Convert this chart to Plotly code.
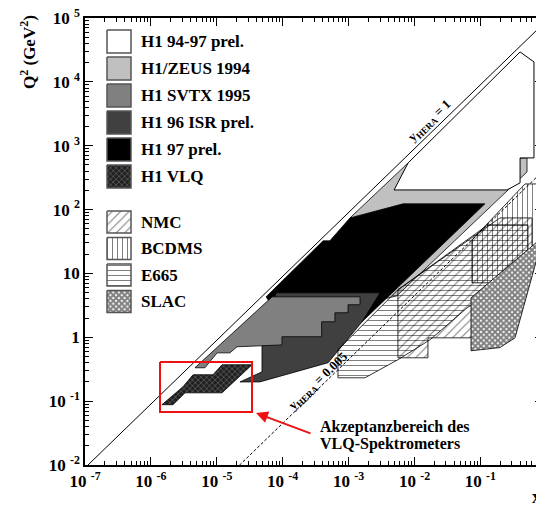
import plotly.graph_objects as go

# ---- kinematic regions, x and Q^2 (GeV^2) ----
h1_9497_x = [0.40, 0.65, 0.65, 0.40, 0.40, 0.254, 4.9e-3, 8.0e-3]
h1_9497_q2 = [29400, 20500, 644, 644, 262, 203, 203, 538]

h1zeus94_x = [8.0e-3, 0.51, 0.51, 5.4e-3, 3.0e-3, 1.05e-3]
h1zeus94_q2 = [538, 644, 389, 4.46, 3.86, 74]

h1_97_x = [1.05e-3, 6.7e-3, 0.117, 1.6e-3, 9.8e-5, 5.6e-5, 4.1e-4, 5.2e-4]
h1_97_q2 = [74, 123, 123, 1.75, 1.75, 4.3, 32.4, 32.4]

h1isr96_x = [7.9e-5, 3.0e-3, 1.6e-3, 4.9e-4, 4.5e-5, 2.25e-5, 4.85e-5, 4.85e-5]
h1isr96_q2 = [4.97, 4.97, 1.75, 0.40, 0.20, 0.20, 0.288, 0.74]

h1svtx95_x = [6.9e-5, 1.49e-3, 1.49e-3, 9.8e-4, 9.8e-4, 6.2e-4, 6.2e-4, 3.9e-4,
              3.9e-4, 9.75e-5, 9.75e-5, 2.03e-5, 1.58e-5, 1.01e-5, 6.6e-6, 4.66e-6]
h1svtx95_q2 = [4.3, 4.3, 3.23, 3.23, 2.42, 2.42, 1.75, 1.75,
               1.02, 1.02, 0.76, 0.71, 0.57, 0.57, 0.333, 0.333]

h1vlq_x = [1.47e-6, 2.16e-6, 3.3e-6, 1.2e-5, 3.42e-5, 1.2e-5, 8.75e-6, 4.36e-6, 3.07e-6]
h1vlq_q2 = [0.088, 0.088, 0.135, 0.135, 0.371, 0.371, 0.259, 0.259, 0.168]

e665_x = [6.9e-4, 6.9e-4, 1.77e-3, 5.6e-3, 1.72e-2, 6.3e-2, 0.527, 0.527, 0.13, 5.6e-3]
e665_q2 = [0.637, 0.232, 0.232, 0.445, 0.914, 2.9, 10.6, 57.6, 57.6, 5.54]

nmc_x = [5.6e-3, 1.6e-2, 1.6e-2, 6.95e-2, 0.607, 0.607, 0.198, 5.6e-3]
nmc_q2 = [0.477, 0.477, 0.98, 0.98, 15.2, 74, 74, 5.54]

bcdms_x = [7.46e-2, 7.46e-2, 0.475, 0.748, 0.748, 0.527]
bcdms_q2 = [7.13, 33.6, 252, 252, 28, 7.13]

slac_x = [0.072, 0.198, 0.335, 0.80, 0.80, 0.072]
slac_q2 = [0.615, 0.69, 0.98, 25, 34, 4.15]

# kinematic limits y_HERA = 1 and y_HERA = 0.005
yhera1_x = [1.1e-7, 0.9]
yhera1_q2 = [0.0099, 81000]
yhera005_x = [2.2e-5, 0.9]
yhera005_q2 = [0.0099, 406]

# axis ticks
x_tickvals = [1e-7, 1e-6, 1e-5, 1e-4, 1e-3, 1e-2, 1e-1]
x_ticktext = ["10 <sup>-7</sup>", "10 <sup>-6</sup>", "10 <sup>-5</sup>", "10 <sup>-4</sup>",
              "10 <sup>-3</sup>", "10 <sup>-2</sup>", "10 <sup>-1</sup>"]
y_tickvals = [1e-2, 1e-1, 1, 10, 1e2, 1e3, 1e4, 1e5]
y_ticktext = ["10 <sup>-2</sup>", "10 <sup>-1</sup>", "1", "10", "10 <sup>2</sup>",
              "10 <sup>3</sup>", "10 <sup>4</sup>", "10 <sup>5</sup>"]

legend_top = ["H1 94-97 prel.", "H1/ZEUS 1994", "H1 SVTX 1995", "H1 96 ISR prel.",
              "H1 97 prel.", "H1 VLQ"]
legend_bottom = ["NMC", "BCDMS", "E665", "SLAC"]

FONT = "Liberation Serif"

# fill styles
solid = {
    "H1 94-97 prel.": "white",
    "H1/ZEUS 1994": "#c0c0c0",
    "H1 SVTX 1995": "#808080",
    "H1 96 ISR prel.": "#404040",
    "H1 97 prel.": "black",
}
patterns = {
    "H1 VLQ": dict(shape="x", fgcolor="#9a9a9a", bgcolor="#202020", size=4, solidity=0.35),
    "NMC": dict(shape="/", fgcolor="black", size=6, solidity=0.18),
    "BCDMS": dict(shape="|", fgcolor="black", size=5, solidity=0.2),
    "E665": dict(shape="-", fgcolor="black", size=5, solidity=0.2),
    "SLAC": dict(shape="x", fgcolor="black", bgcolor="white", size=4, solidity=0.75),
}

fig = go.Figure()


def region(x, q2, name, lw=0.8):
    kw = dict(x=x + x[:1], y=q2 + q2[:1], mode="lines", fill="toself",
              line=dict(color="black", width=lw), hoverinfo="skip", showlegend=False)
    if name in solid:
        fig.add_trace(go.Scatter(fillcolor=solid[name], **kw))
    else:
        fig.add_trace(go.Scatter(fillcolor="rgba(0,0,0,0)", fillpattern=patterns[name], **kw))


region(h1zeus94_x, h1zeus94_q2, "H1/ZEUS 1994")
region(h1_97_x, h1_97_q2, "H1 97 prel.")
region(h1isr96_x, h1isr96_q2, "H1 96 ISR prel.")
region(h1svtx95_x, h1svtx95_q2, "H1 SVTX 1995")
region(h1_9497_x, h1_9497_q2, "H1 94-97 prel.", lw=1)
region(h1vlq_x, h1vlq_q2, "H1 VLQ")
region(e665_x, e665_q2, "E665")
region(nmc_x, nmc_q2, "NMC")
region(bcdms_x, bcdms_q2, "BCDMS")
region(slac_x, slac_q2, "SLAC")

fig.add_trace(go.Scatter(x=yhera1_x, y=yhera1_q2, mode="lines",
                         line=dict(color="black", width=1), hoverinfo="skip", showlegend=False))
fig.add_trace(go.Scatter(x=yhera005_x, y=yhera005_q2, mode="lines",
                         line=dict(color="black", width=1, dash="3px,2px"),
                         hoverinfo="skip", showlegend=False))

# ---- overlay in pixel units (of the page) for the legend, box and arrow ----
PX = dict(xaxis="x2", yaxis="y2", hoverinfo="skip", showlegend=False)


def swatch(top, h, name):
    xs = [107, 131, 131, 107, 107]
    ys = [top, top, top + h, top + h, top]
    kw = dict(x=xs, y=ys, mode="lines", fill="toself", line=dict(color="#555", width=1.5), **PX)
    if name in solid:
        fig.add_trace(go.Scatter(fillcolor=solid[name], **kw))
    else:
        fig.add_trace(go.Scatter(fillcolor="rgba(0,0,0,0)", fillpattern=patterns[name], **kw))
    fig.add_annotation(x=139, y=top + h / 2, xref="x2", yref="y2", text=name, showarrow=False,
                       xanchor="left", yanchor="middle", font=dict(size=17, weight="bold"))


for i, name in enumerate(legend_top):
    swatch(30 + i * 27, 23, name)
for i, name in enumerate(legend_bottom):
    swatch(211 + i * 26.5, 22, name)

# red acceptance box
fig.add_trace(go.Scatter(x=[160, 252, 252, 160, 160], y=[362, 362, 412, 412, 362], mode="lines",
                         line=dict(color="#ee1111", width=2), **PX))
fig.add_annotation(x=256, y=413, ax=312, ay=434, xref="x2", yref="y2", axref="x2", ayref="y2",
                   text="", showarrow=True, arrowhead=2, arrowsize=1.2, arrowwidth=2,
                   arrowcolor="#ee1111")
fig.add_annotation(x=318, y=427, xref="x2", yref="y2", text="Akzeptanzbereich des",
                   showarrow=False, xanchor="left", yanchor="middle",
                   font=dict(size=16, weight="bold"))
fig.add_annotation(x=318, y=444, xref="x2", yref="y2", text="VLQ-Spektrometers",
                   showarrow=False, xanchor="left", yanchor="middle",
                   font=dict(size=16, weight="bold"))

# line labels
fig.add_annotation(x=429, y=121, xref="x2", yref="y2", text="y<sub>HERA</sub> = 1",
                   showarrow=False, textangle=-44, font=dict(size=13, weight="bold"))
fig.add_annotation(x=318, y=381, xref="x2", yref="y2", text="y<sub>HERA</sub> = 0.005",
                   showarrow=False, textangle=-44, font=dict(size=13, weight="bold"))

# axis titles (outside the plot area, so placed in paper units)
fig.add_annotation(x=-0.1245, y=0.924, xref="paper", yref="paper",
                   text="Q<sup>2</sup> (GeV<sup>2</sup>)", showarrow=False, textangle=-90,
                   xanchor="center", yanchor="middle", font=dict(size=17, weight="bold"))
fig.add_annotation(x=1.0, y=-0.045, xref="paper", yref="paper", text="x", showarrow=False,
                   xanchor="right", yanchor="top", font=dict(size=18, weight="bold"))

minor_x = [m * 10.0 ** e for e in range(-7, 0) for m in range(2, 10)]
minor_y = [m * 10.0 ** e for e in range(-2, 5) for m in range(2, 10)]

axis_common = dict(showline=True, linecolor="black", linewidth=1.5, mirror="allticks",
                   ticks="inside", ticklen=8, tickwidth=1, tickcolor="black",
                   showgrid=False, zeroline=False, tickmode="array", automargin=False,
                   ticklabeloverflow="allow",
                   tickfont=dict(size=17, weight="bold", family=FONT))

# the page body adds an 8 px offset, so the figure is sized and margined for it
fig.update_layout(
    width=536, height=497,
    margin=dict(l=77, r=1, t=10, b=40),
    paper_bgcolor="white", plot_bgcolor="white",
    font=dict(family=FONT, color="black"),
    showlegend=False,
    xaxis=dict(type="log", range=[-7, -0.05], tickvals=x_tickvals, ticktext=x_ticktext,
               minor=dict(tickmode="array", tickvals=minor_x, ticks="inside", ticklen=4,
                          tickwidth=1, tickcolor="black"),
               **axis_common),
    yaxis=dict(type="log", range=[-2, 5], tickvals=y_tickvals, ticktext=y_ticktext,
               minor=dict(tickmode="array", tickvals=minor_y, ticks="inside", ticklen=4,
                          tickwidth=1, tickcolor="black"),
               **axis_common),
    xaxis2=dict(overlaying="x", range=[85, 543], visible=False, fixedrange=True),
    yaxis2=dict(overlaying="y", range=[465, 18], visible=False, fixedrange=True),
)

fig.write_html("out.html")
